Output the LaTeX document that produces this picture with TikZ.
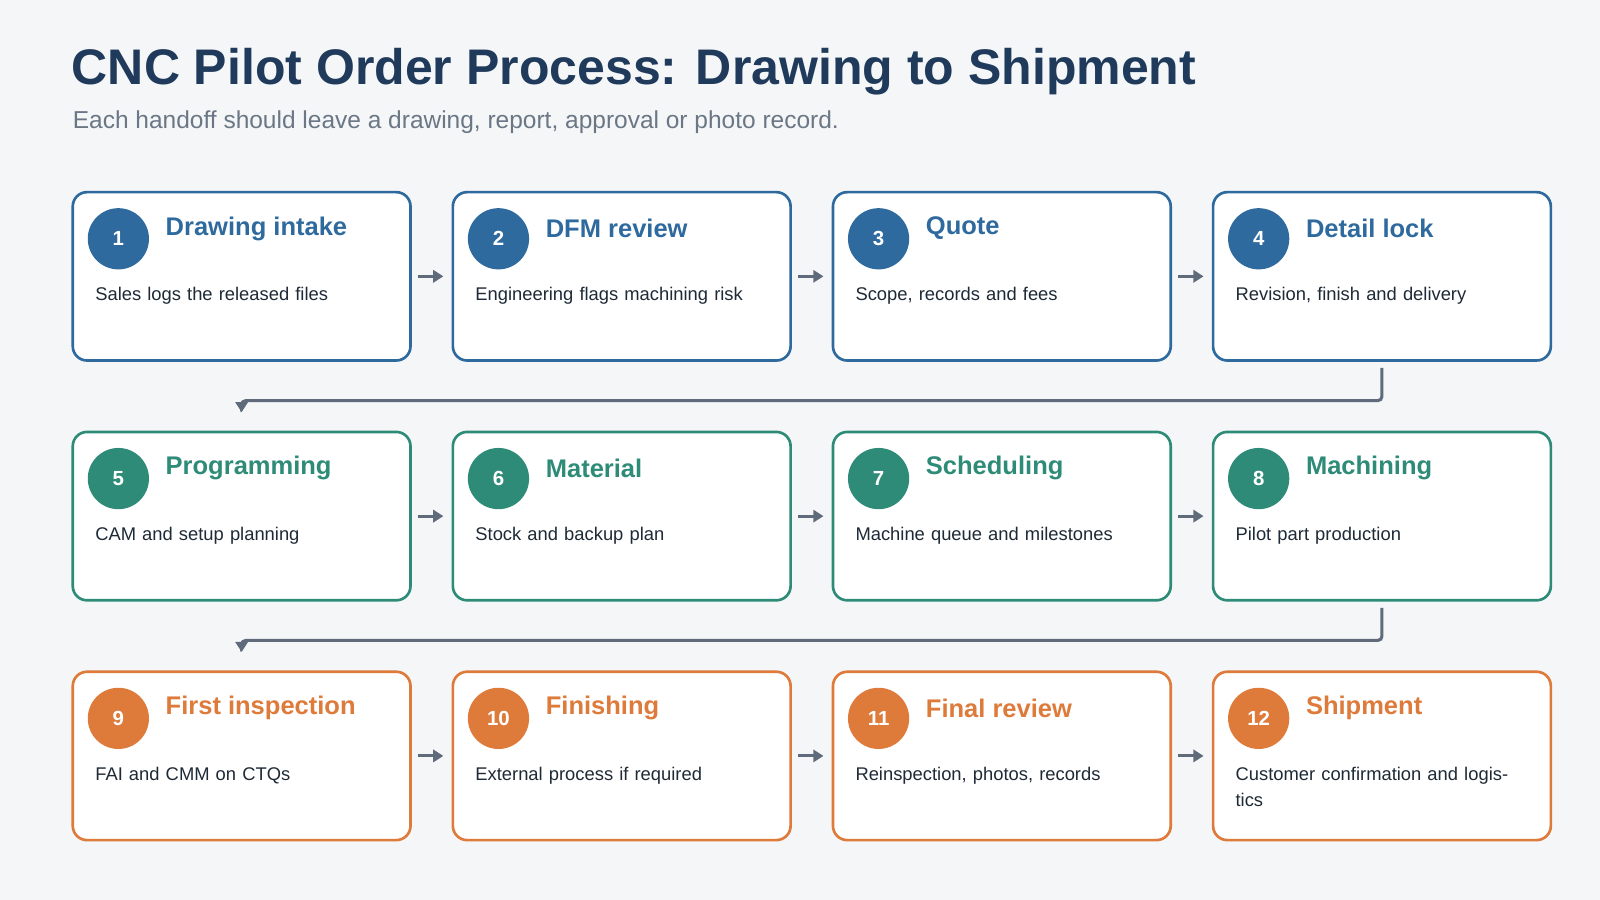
\documentclass[tikz,border=0pt]{standalone}
\usepackage{fontspec}
\setmainfont{Liberation Sans}
\usepackage{xcolor}
\usetikzlibrary{positioning,arrows.meta}
\definecolor{bgc}{HTML}{F4F6F8}
\definecolor{ink}{HTML}{1F3A5A}
\definecolor{sub}{HTML}{6B7785}
\definecolor{bluec}{HTML}{2F6A9E}
\definecolor{tealc}{HTML}{2E8B78}
\definecolor{orngc}{HTML}{DE7A3A}
\definecolor{linec}{HTML}{5F6B7A}
\definecolor{txt}{HTML}{1E2A36}
\tikzset{
  card/.style={draw=#1, line width=1.3pt, fill=white, rounded corners=7pt,
    minimum width=165.5pt, minimum height=82.5pt, anchor=north west, inner sep=0pt},
  num/.style={circle, fill=#1, minimum size=30pt, inner sep=0pt, text=white,
    font=\fontsize{10}{12}\selectfont\bfseries},
  head/.style={anchor=west, text=#1, font=\fontsize{12.5}{15}\selectfont\bfseries, inner sep=0pt},
  desc/.style={anchor=north west, text=txt, font=\fontsize{9}{13}\selectfont,
    inner sep=0pt, align=left, text width=140pt},
  flow/.style={-{Triangle[length=5pt,width=6pt]}, line width=1.5pt, draw=linec},
  turn/.style={-{Triangle[length=5pt,width=6pt]}, line width=1.5pt, draw=linec, rounded corners=2pt}
}
\begin{document}
\begin{tikzpicture}[x=0.5pt,y=-0.5pt]
  \fill[bgc] (0,0) rectangle (1568,882);
  \useasboundingbox (0,0) rectangle (1568,882);

  % title
  \node[anchor=west, inner sep=0pt, text=ink, font=\fontsize{24.5}{28}\selectfont\bfseries] (title) at (70,70)
    {CNC Pilot Order Process: Drawing to Shipment};
  \node[anchor=west, inner sep=0pt, text=sub, font=\fontsize{12}{14}\selectfont] (subtitle) at (71,120)
    {Each handoff should leave a drawing, report, approval or photo record.};

  % cards
  \foreach \n/\c/\r/\col/\hd/\ds in {
    1/0/0/bluec/Drawing intake/Sales logs the released files,
    2/1/0/bluec/DFM review/Engineering flags machining risk,
    3/2/0/bluec/Quote/{Scope, records and fees},
    4/3/0/bluec/Detail lock/{Revision, finish and delivery},
    5/0/1/tealc/Programming/CAM and setup planning,
    6/1/1/tealc/Material/Stock and backup plan,
    7/2/1/tealc/Scheduling/Machine queue and milestones,
    8/3/1/tealc/Machining/Pilot part production,
    9/0/2/orngc/First inspection/FAI and CMM on CTQs,
    10/1/2/orngc/Finishing/External process if required,
    11/2/2/orngc/Final review/{Reinspection, photos, records},
    12/3/2/orngc/Shipment/Customer confirmation and logistics}{
    \node[card=\col] (s\n) at ({70+372.5*\c},{187+235*\r}) {};
    \node[num=\col] (n\n) at ({116+372.5*\c},{234+235*\r}) {\n};
    \node[head=\col] (h\n) at ({162+372.5*\c},{224+235*\r}) {\hd};
    \node[desc] (d\n) at ({93+372.5*\c},{281+235*\r}) {\ds};
  }

  % arrows within rows
  \foreach \a/\b in {1/2,2/3,3/4,5/6,6/7,7/8,9/10,10/11,11/12}{
    \draw[flow] ([xshift=3pt]s\a.east) -- ([xshift=-4pt]s\b.west);
  }

  % row changes
  \coordinate (t5) at ([yshift=9pt]s5.north);
  \coordinate (t9) at ([yshift=9pt]s9.north);
  \draw[turn] ([yshift=-3pt]s4.south) -- ++(0,32) -| (t5);
  \draw[turn] ([yshift=-3pt]s8.south) -- ++(0,32) -| (t9);
\end{tikzpicture}
\end{document}
